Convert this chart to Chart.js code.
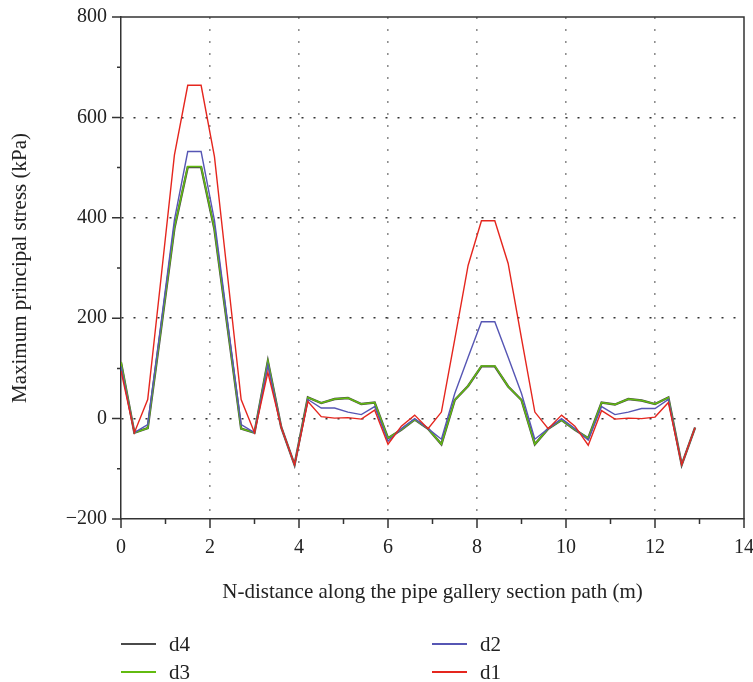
<!DOCTYPE html>
<html>
<head>
<meta charset="utf-8">
<script src="https://cdn.jsdelivr.net/npm/chart.js@4.4.0/dist/chart.umd.min.js"></script>
<style>
  html, body { margin: 0; padding: 0; background: #fff; }
  #wrap { position: relative; width: 753px; height: 682px; }
  #legend { position: absolute; left: 0; top: 0; width: 753px; height: 682px; pointer-events: none;
            font-family: 'Liberation Serif', 'Times New Roman', serif; font-size: 21px; color: #222; }
  .item { position: absolute; height: 24px; display: flex; align-items: center; }
  .swatch { width: 35px; height: 0; border-top: 2px solid; margin-right: 13px; }
</style>
</head>
<body>
<div id="wrap">
  <canvas id="stressChart" width="753" height="682"></canvas>
  <div id="legend"></div>
</div>
<script>
// distance along the path (m)
const distances = [0, 0.3, 0.6, 0.9, 1.2, 1.5, 1.8, 2.1, 2.4, 2.7, 3.0, 3.3, 3.6, 3.9, 4.2, 4.5,
  4.8, 5.1, 5.4, 5.7, 6.0, 6.3, 6.6, 6.9, 7.2, 7.5, 7.8, 8.1, 8.4, 8.7, 9.0, 9.3,
  9.6, 9.9, 10.2, 10.5, 10.8, 11.1, 11.4, 11.7, 12.0, 12.3, 12.6, 12.9];

// maximum principal stress (kPa)
const d1 = [95, -28, 38, 280, 525, 664, 664, 522, 280, 38, -28, 92, -17, -92, 34, 4,
  1, 2, -1, 17, -51, -15, 7, -20, 13, 158, 305, 394, 394, 309, 160, 13,
  -20, 7, -15, -53, 16, -1, 1, 0, 3, 32, -92, -18];
const d2 = [104, -28, -12, 190, 396, 532, 532, 395, 190, -12, -28, 107, -17, -92, 38, 21,
  21, 13, 8, 24, -45, -20, 0, -20, -41, 50, 122, 193, 193, 122, 50, -41,
  -20, 0, -20, -43, 24, 8, 13, 20, 20, 38, -92, -18];
const d3 = [113, -28, -19, 180, 380, 502, 502, 378, 180, -20, -28, 115, -17, -92, 42, 31,
  39, 41, 29, 32, -39, -22, -2, -20, -51, 37, 65, 105, 105, 64, 37, -51,
  -20, -3, -22, -39, 32, 28, 39, 36, 29, 42, -92, -18];
const d4 = [112, -28, -19, 179, 379, 501, 501, 377, 179, -20, -28, 114, -17, -92, 42, 31,
  39, 41, 29, 32, -39, -22, -2, -20, -51, 37, 65, 104, 104, 64, 37, -51,
  -20, -3, -22, -39, 32, 28, 39, 36, 29, 42, -92, -18];

const yTicks = [-200, 0, 200, 400, 600, 800];
const xTicks = [0, 2, 4, 6, 8, 10, 12, 14];

const serif = "'Liberation Serif', 'Times New Roman', serif";
const textColor = '#222';

const series = [
  { name: 'd1', values: d1, color: '#e5261e', width: 1.4 },
  { name: 'd2', values: d2, color: '#5656b4', width: 1.4 },
  { name: 'd3', values: d3, color: '#62bb10', width: 1.5 },
  { name: 'd4', values: d4, color: '#4a4a4a', width: 2.4 }
];

// no extra room for overhanging tick labels, the layout padding handles it
function noLabelPadding(s) {
  s.paddingLeft = 0;
  s.paddingRight = 0;
  s.paddingTop = 0;
  s.paddingBottom = 0;
}

// tick marks (major + minor) and the top/right frame
const axisFrame = {
  id: 'axisFrame',
  afterDraw(chart) {
    const { ctx, chartArea: a, scales: { x, y } } = chart;
    ctx.save();
    ctx.strokeStyle = '#333';
    ctx.lineWidth = 1.5;
    ctx.beginPath();
    ctx.moveTo(a.left, a.top);
    ctx.lineTo(a.right, a.top);
    ctx.lineTo(a.right, a.bottom);
    for (let v = -200; v <= 800; v += 100) {
      const py = y.getPixelForValue(v);
      const len = v % 200 === 0 ? 9 : 4;
      ctx.moveTo(a.left - len, py);
      ctx.lineTo(a.left, py);
    }
    for (let v = 0; v <= 14; v++) {
      const px = x.getPixelForValue(v);
      const len = v % 2 === 0 ? 9 : 5;
      ctx.moveTo(px, a.bottom);
      ctx.lineTo(px, a.bottom + len);
    }
    ctx.stroke();
    ctx.restore();
  }
};

const ctx = document.getElementById('stressChart').getContext('2d');
new Chart(ctx, {
  type: 'line',
  data: {
    datasets: series.map(s => ({
      label: s.name,
      data: distances.map((d, i) => ({ x: d, y: s.values[i] })),
      borderColor: s.color,
      borderWidth: s.width,
      pointRadius: 0,
      tension: 0,
      fill: false
    }))
  },
  options: {
    responsive: false,
    animation: false,
    devicePixelRatio: 1,
    layout: { padding: { left: 0, right: 9, top: 17, bottom: 73 } },
    plugins: { legend: { display: false }, tooltip: { enabled: false } },
    scales: {
      x: {
        type: 'linear',
        min: 0,
        max: 14,
        afterFit: s => { s.height = 90; noLabelPadding(s); },
        afterBuildTicks: s => { s.ticks = xTicks.map(v => ({ value: v })); },
        ticks: { font: { family: serif, size: 20 }, color: textColor, padding: 17, maxRotation: 0 },
        grid: {
          drawTicks: false,
          color: c => (c.tick && c.tick.value > 0 && c.tick.value < 14) ? '#8f8f8f' : 'rgba(0,0,0,0)',
          lineWidth: 1.6
        },
        border: { color: '#333', width: 1.5, dash: [2, 10] },
        title: {
          display: true,
          text: 'N-distance along the pipe gallery section path (m)',
          font: { family: serif, size: 21 },
          color: textColor,
          padding: { top: 0, bottom: 4 }
        }
      },
      y: {
        min: -200,
        max: 800,
        afterFit: s => { s.width = 121; noLabelPadding(s); },
        afterBuildTicks: s => { s.ticks = yTicks.map(v => ({ value: v })); },
        ticks: {
          font: { family: serif, size: 20 },
          color: textColor,
          padding: 14,
          callback: v => String(v).replace('-', '\u2212')
        },
        grid: {
          drawTicks: false,
          color: c => (c.tick && c.tick.value > -200 && c.tick.value < 800) ? '#333' : 'rgba(0,0,0,0)',
          lineWidth: 1.5
        },
        border: { color: '#333', width: 1.5, dash: [2, 10] },
        title: {
          display: true,
          text: 'Maximum principal stress (kPa)',
          font: { family: serif, size: 21 },
          color: textColor,
          padding: { top: 8, bottom: 0 }
        }
      }
    }
  },
  plugins: [axisFrame]
});

// legend laid out like the figure: two columns
const legendSpots = [
  { name: 'd4', left: 121, top: 632 },
  { name: 'd3', left: 121, top: 660 },
  { name: 'd2', left: 432, top: 632 },
  { name: 'd1', left: 432, top: 660 }
];
const legendEl = document.getElementById('legend');
legendSpots.forEach(spot => {
  const s = series.find(e => e.name === spot.name);
  const item = document.createElement('div');
  item.className = 'item';
  item.style.left = spot.left + 'px';
  item.style.top = spot.top + 'px';
  const sw = document.createElement('span');
  sw.className = 'swatch';
  sw.style.borderTopColor = s.color;
  const label = document.createElement('span');
  label.textContent = s.name;
  item.appendChild(sw);
  item.appendChild(label);
  legendEl.appendChild(item);
});
</script>
</body>
</html>
